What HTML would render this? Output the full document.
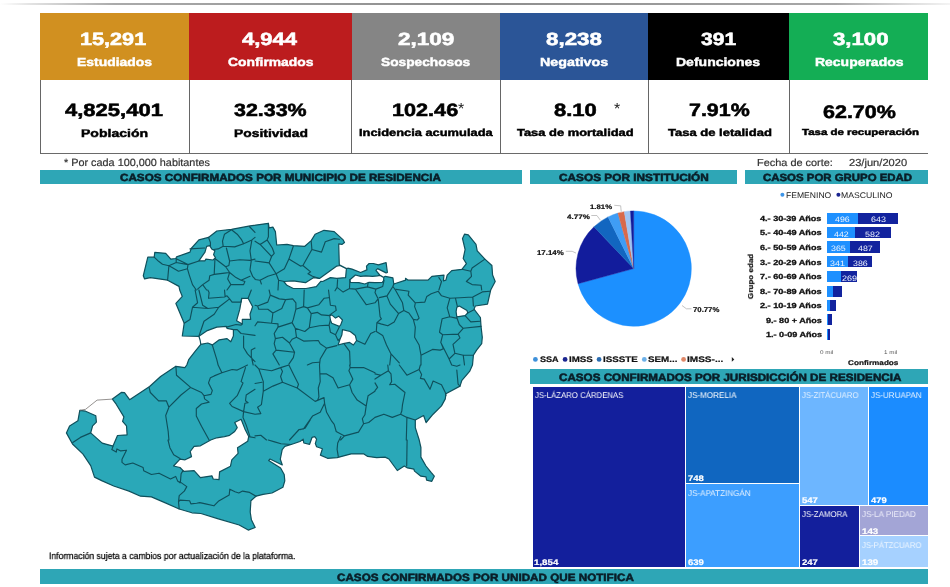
<!DOCTYPE html><html><head><meta charset="utf-8"><title>COVID-19 Michoac&aacute;n</title>
<style>html,body{margin:0;padding:0;background:#fff}body{width:950px;height:587px;position:relative;overflow:hidden;font-family:"Liberation Sans",sans-serif}.b{position:absolute}.t{position:absolute;white-space:nowrap;line-height:1;transform-origin:0 0;font-family:"Liberation Sans",sans-serif;text-rendering:geometricPrecision;will-change:transform}svg{position:absolute;left:0;top:0}</style></head><body>
<div class="b" style="left:0;top:3px;width:950px;height:2px;background:linear-gradient(90deg,#fff 0%,#e4e4e4 3%,#aaa 12%,#8c8c8c 50%,#a8a8a8 88%,#ddd 96%,#f4f4f4 100%)"></div>
<div class="b" style="left:40.3px;top:13px;width:148.9px;height:66.6px;background:#d19020"></div>
<div class="b" style="left:189.2px;top:13px;width:162.4px;height:66.6px;background:#bc1c1e"></div>
<div class="b" style="left:351.6px;top:13px;width:148.4px;height:66.6px;background:#858585"></div>
<div class="b" style="left:500.0px;top:13px;width:148.3px;height:66.6px;background:#2b5597"></div>
<div class="b" style="left:648.3px;top:13px;width:140.7px;height:66.6px;background:#000"></div>
<div class="b" style="left:789.0px;top:13px;width:139.0px;height:66.6px;background:#14ae55"></div>
<div class="b" style="left:40.3px;top:153px;width:887.7px;height:1px;background:#6a6a6a"></div>
<div class="b" style="left:39.8px;top:79.6px;width:1.1px;height:74px;background:#666"></div>
<div class="b" style="left:188.5px;top:79.6px;width:1.1px;height:74px;background:#666"></div>
<div class="b" style="left:351.1px;top:79.6px;width:1.1px;height:74px;background:#666"></div>
<div class="b" style="left:499.7px;top:79.6px;width:1.1px;height:74px;background:#666"></div>
<div class="b" style="left:647.8px;top:79.6px;width:1.1px;height:74px;background:#666"></div>
<div class="b" style="left:788.5px;top:79.6px;width:1.1px;height:74px;background:#666"></div>
<div class="b" style="left:40.1px;top:169.6px;width:481.9px;height:14.1px;background:#2ea6b6"></div>
<div class="b" style="left:530.1px;top:169.6px;width:207.4px;height:14.1px;background:#2ea6b6"></div>
<div class="b" style="left:744.9px;top:169.6px;width:183.1px;height:14.1px;background:#2ea6b6"></div>
<div class="b" style="left:530.1px;top:369.3px;width:397.9px;height:14.7px;background:#2ea6b6"></div>
<div class="b" style="left:40.1px;top:569.4px;width:887.9px;height:14.4px;background:#2ea6b6"></div>
<div class="b" style="left:532.6px;top:387.0px;width:152.4px;height:179.6px;background:#131f9c"></div>
<div class="b" style="left:686.0px;top:387.0px;width:112.9px;height:96.2px;background:#1066c0"></div>
<div class="b" style="left:686.0px;top:484.4px;width:112.9px;height:82.2px;background:#3c9eff"></div>
<div class="b" style="left:799.9px;top:387.0px;width:68.0px;height:117.6px;background:#6db6ff"></div>
<div class="b" style="left:869.0px;top:387.0px;width:59.0px;height:117.6px;background:#1b8cff"></div>
<div class="b" style="left:799.9px;top:505.8px;width:59.2px;height:60.8px;background:#131f9c"></div>
<div class="b" style="left:860.2px;top:505.8px;width:67.8px;height:29.6px;background:#a3a5d6"></div>
<div class="b" style="left:860.2px;top:536.4px;width:67.8px;height:30.2px;background:#a6d1ff"></div>
<div class="b" style="left:826.9px;top:212.5px;width:31.3px;height:11.3px;background:#1e90ff"></div>
<div class="b" style="left:858.2px;top:212.5px;width:39.7px;height:11.3px;background:#12239e"></div>
<div class="b" style="left:826.9px;top:226.9px;width:28.1px;height:11.3px;background:#1e90ff"></div>
<div class="b" style="left:855.0px;top:226.9px;width:35.6px;height:11.3px;background:#12239e"></div>
<div class="b" style="left:826.9px;top:241.4px;width:23.2px;height:11.3px;background:#1e90ff"></div>
<div class="b" style="left:850.1px;top:241.4px;width:29.8px;height:11.3px;background:#12239e"></div>
<div class="b" style="left:826.9px;top:256.2px;width:20.9px;height:11.3px;background:#1e90ff"></div>
<div class="b" style="left:847.8px;top:256.2px;width:24.3px;height:11.3px;background:#12239e"></div>
<div class="b" style="left:826.9px;top:271.0px;width:13.9px;height:11.3px;background:#1e90ff"></div>
<div class="b" style="left:840.8px;top:271.0px;width:16.5px;height:11.3px;background:#12239e"></div>
<div class="b" style="left:826.9px;top:285.5px;width:6.4px;height:11.0px;background:#1e90ff"></div>
<div class="b" style="left:833.3px;top:285.5px;width:9.0px;height:11.0px;background:#12239e"></div>
<div class="b" style="left:826.9px;top:300.2px;width:3.1px;height:10.8px;background:#1e90ff"></div>
<div class="b" style="left:830.0px;top:300.2px;width:5.9px;height:10.8px;background:#12239e"></div>
<div class="b" style="left:826.9px;top:314.4px;width:0.9px;height:11.0px;background:#1e90ff"></div>
<div class="b" style="left:827.8px;top:314.4px;width:4.3px;height:11.0px;background:#12239e"></div>
<div class="b" style="left:826.9px;top:329.2px;width:1.1px;height:11.0px;background:#1e90ff"></div>
<div class="b" style="left:828.0px;top:329.2px;width:2.4px;height:11.0px;background:#12239e"></div>
<svg width="950" height="587" viewBox="0 0 950 587"><path d="M143.3 275.7 L147.8 257.2 L154.2 257.2 L154.8 252.3 L165.7 253.3 L170.8 259.1 L175.9 258.5 L176.5 256.9 L190.0 252.1 L191.2 248.5 L198.9 239.9 L208.5 237.4 L216.8 231.0 L231.5 229.3 L250.0 225.9 L268.4 223.3 L269.1 227.8 L272.9 227.1 L275.4 231.6 L276.7 245.0 L287.0 244.4 L293.3 245.7 L304.8 246.3 L311.2 240.6 L315.1 234.2 L324.0 230.3 L334.2 231.6 L343.2 239.9 L344.5 242.5 L341.9 244.4 L338.7 243.8 L339.3 264.8 L346.5 268.6 L347.8 268.2 L352.0 269.1 L360.6 272.5 L366.9 269.9 L366.5 266.1 L369.1 263.5 L373.3 263.5 L378.4 264.8 L386.1 262.7 L387.4 272.5 L386.1 272.9 L377.6 268.6 L375.9 270.3 L379.7 275.0 L382.7 276.7 L384.0 277.1 L385.3 276.3 L392.9 277.8 L393.8 284.0 L405.7 280.1 L405.5 278.3 L408.2 280.2 L428.0 280.2 L431.9 276.3 L444.0 275.1 L443.4 280.8 L445.9 280.2 L447.2 275.1 L451.7 270.6 L461.9 269.3 L466.4 263.6 L463.2 258.5 L465.1 249.5 L462.5 238.6 L464.5 234.2 L468.3 234.8 L476.0 244.4 L477.2 250.8 L484.9 259.1 L491.9 265.5 L492.6 275.1 L495.2 281.5 L490.7 290.0 L487.5 304.1 L475.3 306.0 L474.0 309.2 L480.4 317.5 L481.1 327.1 L482.3 337.3 L481.7 343.7 L476.6 350.1 L473.4 355.2 L472.5 365.0 L469.6 371.4 L461.9 380.3 L460.0 386.1 L445.9 393.8 L445.3 398.9 L441.5 405.9 L433.1 414.2 L426.1 422.5 L423.6 415.5 L415.3 420.0 L415.3 427.6 L419.0 439.2 L420.9 447.5 L420.9 457.1 L426.0 466.0 L431.1 472.4 L434.3 476.2 L431.8 481.3 L426.6 480.1 L426.0 476.9 L420.9 476.2 L414.5 471.1 L413.9 469.2 L407.5 467.9 L404.3 466.0 L397.3 470.5 L388.9 459.0 L385.1 457.1 L376.7 457.7 L367.7 456.4 L363.9 453.9 L351.1 453.9 L337.1 457.7 L327.5 458.3 L320.4 455.1 L322.4 448.8 L316.6 446.8 L315.3 443.6 L316.6 439.2 L314.7 436.6 L312.1 437.3 L309.6 444.3 L303.8 443.0 L303.2 439.2 L300.0 441.5 L291.2 444.5 L284.8 446.4 L282.2 449.6 L280.3 459.2 L282.3 465.0 L270.0 459.0 L268.6 460.6 L280.6 468.0 L284.2 474.5 L284.8 480.9 L282.9 487.3 L272.0 493.0 L263.1 494.3 L256.0 496.2 L250.9 500.7 L250.2 512.0 L251.4 519.8 L255.2 527.5 L248.2 530.1 L239.2 525.0 L217.5 518.6 L200.9 513.5 L191.9 512.8 L179.2 509.0 L164.8 502.6 L151.4 496.9 L140.5 496.2 L129.0 491.1 L113.7 486.0 L102.2 480.9 L94.5 477.1 L90.7 465.6 L83.0 454.1 L72.5 444.0 L66.4 432.9 L69.6 425.9 L77.9 420.8 L79.8 410.3 L85.6 411.2 L95.8 415.7 L96.4 422.1 L92.6 425.9 L90.7 432.9 L102.2 443.1 L113.0 446.1 L117.5 435.5 L127.1 434.8 L126.5 425.9 L122.6 421.4 L123.9 416.9 L116.2 404.2 L112.4 399.1 L121.3 392.4 L124.5 392.7 L129.6 399.7 L149.6 386.5 L160.6 376.5 L175.9 366.3 L184.8 367.6 L186.8 365.0 L188.7 359.6 L195.1 351.3 L200.8 344.3 L200.2 340.5 L198.9 336.3 L182.3 336.0 L184.2 323.2 L175.9 303.4 L182.3 296.4 L179.7 290.0 L179.0 286.4 L167.6 280.2 L150.3 277.6 L144.6 278.9Z M198.9 260.8 L205.0 252.1 L206.6 246.3 L209.8 245.7 L211.7 248.9 L214.9 250.8 L213.6 254.6 L215.5 257.8 L213.0 260.0 L205.9 259.1 L205.0 260.8Z M283.8 281.5 L293.3 280.8 L305.5 282.7 L313.8 277.6 L319.5 278.5 L336.8 266.1 L340.0 265.5 L346.4 268.7 L345.6 277.6 L336.8 278.3 L330.4 277.6 L322.7 281.5 L320.8 281.3 L316.3 286.6 L306.1 288.5 L293.3 288.5 L286.9 285.3Z M349.9 279.7 L355.4 275.0 L360.6 276.3 L365.7 275.9 L372.5 276.3 L377.6 275.9 L379.7 275.3 L382.7 276.9 L383.8 277.3 L383.6 280.6 L382.3 282.3 L375.0 282.7 L369.1 282.3 L364.8 284.0 L358.9 282.7 L350.3 282.3Z M241.7 298.3 L248.1 298.3 L252.6 306.6 L250.0 314.3 L250.7 319.4 L242.3 319.4 L242.3 323.9 L236.6 320.7 L239.8 309.2Z M456.8 307.3 L459.3 306.0 L467.0 310.4 L467.7 313.0 L465.1 315.6 L456.8 316.8 L456.1 311.7Z M329.8 315.6 L331.7 314.9 L335.5 318.1 L338.7 316.2 L342.5 320.0 L340.6 325.1 L339.3 326.4 L331.7 323.2 L330.4 320.0Z M342.5 329.6 L350.2 331.5 L355.3 335.4 L356.6 340.5 L353.4 345.0 L349.6 342.4 L343.2 343.7 L338.1 345.0 L340.0 339.2 L341.9 334.7Z M180.0 459.2 L185.1 459.8 L191.5 456.6 L190.2 451.5 L194.1 446.4 L200.4 445.8 L210.7 440.0 L216.8 437.8 L224.5 436.6 L229.6 435.3 L234.7 431.5 L237.2 427.6 L234.7 422.5 L241.1 419.3 L244.9 428.9 L248.7 436.6 L247.7 441.3 L237.5 447.7 L238.1 453.4 L231.8 459.8 L230.5 466.2 L219.6 471.9 L219.0 479.6 L213.2 479.0 L211.9 475.8 L200.4 477.7 L194.1 470.7 L183.8 471.3 L180.0 467.5 L173.5 466.0Z M198.9 336.3 L206.6 330.9 L216.8 327.1 L226.4 326.4 L227.0 328.3 L233.4 329.6 L233.4 336.0 L230.8 341.8 L227.0 338.6 L219.3 339.8 L212.3 344.9 L207.8 343.0 L200.8 344.3 L200.2 340.5Z" fill="#2aa8b8" fill-rule="evenodd" stroke="#0f505c" stroke-width="1.2" stroke-linejoin="round"/><path d="M79.8 410.3 L85.6 409.3 L97.1 400.1 L112.4 399.1" fill="none" stroke="#7a7674" stroke-width="0.8"/><path d="M154.2 257.2 L158.6 261.3 L162.5 264.2 L168.9 265.7 L176.2 262.5 L176.2 258.7 M168.9 265.7 L167.6 280.2 M168.9 265.7 L172.1 267.4 L178.5 271.2 L187.4 268.7 L188.0 264.6 L176.2 262.5 M187.4 268.7 L189.3 275.1 L192.5 284.6 L196.3 290.0 M176.2 258.7 L188.0 264.6 L198.9 261.0 M190.0 248.9 L204.6 248.0 M208.5 237.4 L210.4 242.5 L210.4 246.1 M213.6 249.5 L218.1 248.9 L223.2 246.3 L222.5 241.2 L224.5 234.2 L231.5 229.7 M223.2 246.3 L234.7 246.9 L243.6 243.8 L251.9 239.9 L255.0 237.4 M231.5 229.7 L237.2 234.2 L241.7 239.9 L243.6 243.8 M249.4 226.5 L255.0 232.3 M226.4 248.0 L229.6 261.0 L228.9 265.5 L225.7 266.8 L214.9 258.5 M229.6 261.0 L239.8 259.7 L250.0 260.4 L255.0 259.1 M251.9 239.9 L250.0 250.8 L251.3 260.4 L250.0 270.0 L252.6 276.3 L255.0 278.9 M214.9 259.7 L214.2 274.4 L209.8 275.7 L209.1 280.2 L202.7 284.6 L197.6 289.1 M214.2 274.4 L224.5 273.1 L229.6 272.5 L225.7 266.8 M229.6 272.5 L227.7 278.9 L230.8 284.6 L227.0 290.0 M229.6 272.5 L236.0 277.6 L241.1 280.2 L250.0 276.3 M241.1 280.2 L244.9 281.5 L243.6 284.6 L230.8 284.6 M202.7 284.6 L206.6 290.0 M268.4 223.3 L268.4 236.7 L267.1 239.9 L260.1 244.4 L255.0 241.2 M267.1 239.9 L272.3 248.0 L274.2 253.3 L271.6 256.5 L260.1 244.4 M271.6 256.5 L269.1 262.9 L255.0 261.0 M269.1 262.9 L276.1 273.8 L278.6 280.2 L278.0 290.0 M276.1 273.8 L284.4 268.7 L288.9 259.1 L293.3 246.3 M288.9 259.1 L300.4 266.1 L302.9 265.5 L311.9 249.5 L311.2 241.2 M311.9 249.5 L321.5 252.1 L325.3 241.8 L334.2 238.6 L339.3 239.3 M302.9 265.5 L310.6 271.9 L308.0 273.8 L312.5 276.3 L318.9 278.3 M276.1 273.8 L267.8 276.3 L260.1 280.2 L255.0 279.5 M260.1 280.2 L261.4 284.0 M278.6 280.2 L284.4 281.5 M484.9 259.1 L472.1 268.0 L470.8 271.2 L461.9 269.3 M470.8 271.2 L471.5 276.3 L466.4 281.5 L472.1 284.6 L481.1 285.3 L481.7 290.0 M438.9 277.6 L441.5 281.5 L438.9 290.0 M337.6 279.7 L337.1 287.4 L343.1 292.1 L349.5 288.6 L349.9 279.7 M349.5 288.6 L355.4 289.1 L367.4 286.9 L368.2 282.7 M355.4 289.1 L356.0 290.0 M367.4 286.9 L375.9 289.1 L382.7 286.5 L384.0 280.6 M379.3 297.6 L387.0 295.9 L392.9 286.5 L393.8 284.0 M392.9 286.5 L395.4 290.0 M394.6 289.1 L405.7 290.8 L408.9 291.3 M337.1 287.4 L335.0 290.8 M195.1 290.0 L197.6 302.8 L192.5 307.3 L190.0 319.4 L184.2 323.2 M192.5 307.3 L207.8 308.5 L218.7 307.3 L229.6 298.9 L227.0 295.8 L224.5 297.0 L208.5 298.3 L209.1 292.6 L207.8 290.0 M198.9 290.0 L202.7 305.3 L207.8 308.5 M218.7 307.3 L214.2 314.3 L204.0 321.3 L198.9 336.3 M229.6 298.9 L232.1 302.1 L241.1 302.1 L241.7 298.3 M251.3 290.0 L248.1 298.3 M224.5 290.0 L225.1 296.4 M226.4 327.1 L236.0 324.5 L241.1 325.1 L242.3 323.9 M233.4 329.6 L237.2 329.6 L241.1 333.5 L255.0 335.4 M243.6 336.0 L243.6 347.5 L247.5 353.9 L255.0 361.6 M212.3 345.0 L216.8 359.6 L218.1 365.0 M255.0 348.1 L251.3 350.1 L251.3 356.5 L253.2 365.0 M269.1 290.0 L270.3 295.1 L267.8 302.1 L257.6 306.0 L255.0 305.3 M257.6 306.0 L258.8 309.2 L267.8 309.2 L272.9 313.0 L271.6 323.2 L257.6 321.9 L255.0 325.8 M270.3 295.1 L279.3 298.9 L285.7 299.6 L292.7 298.9 L295.9 302.8 L295.9 309.2 L293.3 319.4 L292.1 322.6 L278.0 327.1 M285.7 299.6 L281.8 308.5 L272.9 313.0 M271.6 323.2 L278.0 323.9 L278.0 327.1 L274.2 333.5 L275.4 338.6 L274.2 343.7 L276.1 350.1 L272.9 353.9 L279.3 365.0 M275.4 338.6 L282.5 337.3 L289.5 343.0 L292.1 339.2 L296.5 337.3 L295.3 328.3 L292.1 322.6 M289.5 343.0 L294.6 352.2 L276.1 350.1 M294.6 352.2 L293.3 357.7 L288.9 364.1 M295.9 309.2 L303.6 306.6 L304.2 290.0 M303.6 306.6 L307.4 307.9 L311.2 313.6 L309.3 327.7 L304.8 331.5 L295.3 328.3 M307.4 307.9 L318.9 304.7 L324.0 298.3 L328.5 297.7 M311.2 313.6 L317.6 312.4 L321.5 314.9 L329.8 315.6 M328.5 290.0 L330.4 305.3 L335.5 306.0 L336.2 310.4 L329.8 314.9 M309.3 327.7 L319.5 325.8 L329.1 325.1 L330.4 320.0 M329.1 325.1 L330.4 332.2 L335.5 334.7 L339.3 327.1 M335.5 334.7 L338.1 340.5 L339.3 339.2 M296.5 337.3 L303.6 341.1 L318.3 340.5 L320.2 343.7 L326.6 348.1 L336.8 345.6 M326.6 348.1 L320.2 359.0 L319.5 365.0 M344.5 344.3 L349.6 351.3 L350.2 365.0 M356.6 340.5 L364.9 344.3 L370.7 333.5 L375.0 331.5 M356.0 290.0 L366.2 304.7 L375.0 302.8 L377.9 299.2 M307.4 365.0 L312.5 362.8 L318.9 362.2 M375.9 289.1 L375.0 292.6 L378.2 298.9 L380.1 316.8 L381.4 318.8 L376.9 322.6 L376.3 331.5 L382.7 335.4 L386.5 345.0 L391.0 353.9 L389.7 365.0 M387.1 296.4 L390.3 304.1 L398.6 313.6 L394.2 321.9 L387.8 325.8 L380.8 323.9 L376.9 322.6 M395.4 290.0 L402.5 302.8 L403.8 310.4 L398.6 313.6 M403.8 310.4 L408.9 313.0 L413.3 319.4 L417.2 320.0 L419.1 318.1 L414.6 306.6 L415.3 302.8 L408.2 295.1 L408.9 291.3 M413.3 319.4 L415.3 327.1 L414.6 337.3 L419.1 345.0 L421.0 355.2 L421.0 365.0 M415.3 302.8 L424.8 302.1 L426.8 296.4 L431.2 293.8 L438.3 291.3 M438.3 291.3 L441.5 295.8 L449.8 298.3 L460.0 297.7 L472.8 297.0 L482.3 291.9 L490.0 291.3 M449.8 298.3 L447.2 307.9 L449.8 316.8 L456.2 318.1 M472.8 297.0 L473.4 306.0 M455.5 298.3 L457.4 306.6 M449.8 316.8 L442.1 318.8 L439.5 332.2 L442.7 334.7 L440.8 342.4 L449.1 359.0 L451.7 365.0 M442.7 334.7 L458.1 334.1 L463.2 328.3 L481.1 326.4 M458.1 334.1 L460.0 337.9 L453.0 344.3 L454.9 353.3 L449.1 359.0 M454.9 353.3 L463.2 355.2 L472.8 355.2 M463.2 355.2 L464.5 365.0 M456.8 317.5 L459.3 324.5 L463.2 328.3 M465.1 315.6 L470.8 321.9 L480.4 321.3 M467.7 313.0 L474.0 309.8 M421.0 355.2 L432.5 349.4 L440.2 350.1 L443.4 348.8 L440.8 342.4 M391.0 353.9 L399.3 362.8 M175.9 366.3 L176.5 375.2 L190.6 387.4 L181.0 395.0 L168.9 407.2 L165.7 415.5 L168.2 431.5 L168.9 440.0 M149.1 387.4 L150.3 392.5 L158.6 400.8 L166.3 400.8 L168.9 407.2 M190.6 387.4 L201.5 392.5 L204.0 395.7 L204.6 398.9 L209.1 402.1 L201.5 404.0 L196.3 408.5 L196.3 416.1 L201.5 426.3 L209.1 440.0 M204.0 395.7 L211.0 394.4 L212.3 390.6 L208.5 382.9 L210.4 377.8 L214.2 375.9 L221.9 372.7 L218.1 365.0 M221.9 372.7 L232.1 369.5 L237.2 370.1 L243.6 366.9 L247.5 365.0 M245.5 367.6 L241.1 381.6 L243.0 382.9 L237.2 395.7 L229.6 403.3 L232.1 406.5 L243.6 411.6 L244.9 403.3 L248.1 402.7 L245.5 400.8 L246.2 395.0 L255.0 389.3 M243.6 411.6 L243.0 417.4 L246.2 425.1 L250.0 436.6 M243.6 411.6 L255.0 414.2 M248.7 436.6 L255.0 437.8 M72.8 442.5 L80.4 437.4 L90.7 432.9 M258.8 368.8 L263.3 381.6 L263.3 391.2 L261.4 404.6 L257.6 407.2 L260.8 413.6 L255.0 414.2 M255.0 365.0 L258.8 368.8 L271.6 370.8 L280.6 367.6 L288.9 365.0 M263.3 391.2 L272.9 386.1 L282.5 382.3 L280.6 376.5 L282.5 371.4 L280.6 367.6 M282.5 382.3 L297.2 388.0 L315.1 401.4 L324.0 397.6 L324.6 403.3 L320.2 412.3 L312.5 416.1 L303.6 428.9 L299.1 429.5 L289.5 440.0 M288.9 365.0 L293.3 373.9 L298.5 384.2 L297.2 388.0 M319.5 365.0 L320.2 381.6 L318.3 388.0 L318.9 396.9 L317.6 400.1 M320.2 373.9 L326.6 373.9 L333.0 377.8 L338.1 388.0 L349.6 384.8 L352.8 379.1 L348.9 370.8 L350.2 367.6 L349.6 365.0 M349.6 384.8 L352.1 392.5 L357.2 400.1 L366.2 405.9 L364.9 414.8 L362.3 418.7 L363.6 423.8 L358.5 432.1 L344.5 435.9 L340.6 440.0 M350.2 367.6 L363.6 367.6 L375.0 372.7 M366.2 405.9 L368.1 395.7 L375.0 391.2 M363.6 423.8 L368.7 422.5 L375.0 417.4 M324.6 403.3 L326.6 412.3 L331.7 421.2 L334.2 424.4 L336.2 431.5 L344.5 435.9 M255.0 383.5 L262.0 382.3 M255.0 435.9 L260.8 435.3 L266.5 440.0 M387.8 365.0 L388.4 370.8 L391.0 373.9 L391.6 381.6 L389.7 384.8 L394.8 384.2 L405.0 392.5 L402.5 404.6 L401.8 411.0 L400.6 414.2 L392.3 417.4 L383.9 414.2 L375.0 417.4 M388.4 370.8 L380.8 375.2 L375.0 373.9 M380.8 375.2 L375.0 379.1 M399.3 365.0 L406.9 375.2 L419.1 369.5 L420.4 365.0 M419.1 369.5 L421.6 374.6 L420.4 378.4 L424.2 379.1 L430.0 389.3 L433.1 381.0 L441.5 384.8 L445.3 392.5 L445.9 395.7 M400.6 414.2 L406.9 417.4 L415.3 420.0 M406.9 417.4 L406.3 440.0 M456.8 370.1 L458.1 384.2 L460.0 386.1 M451.7 365.0 L456.8 366.3 L460.0 365.0 M375.0 382.9 L377.6 387.4 L375.0 390.6 M113.0 446.4 L111.8 449.6 L116.2 452.1 L116.9 448.9 L120.7 450.9 L126.5 450.2 L122.0 459.2 L122.0 462.4 L125.2 464.9 L132.8 463.0 L143.1 467.5 L143.7 470.7 L151.4 474.5 L159.0 473.2 L170.5 479.0 L175.7 476.4 L177.6 480.9 L180.0 482.8 M168.0 440.0 L169.9 447.7 L173.7 454.7 L180.0 458.5 M178.5 501.9 L180.0 500.1 L189.6 500.7 L190.9 503.9 L196.6 503.3 L199.8 502.6 L205.6 503.9 L213.9 505.8 L218.3 501.3 L229.2 495.0 L229.8 489.2 L235.0 491.8 L238.8 493.0 L242.6 491.1 L249.6 492.4 L256.0 496.2 M268.2 440.0 L274.6 441.9 L281.0 443.8 L291.2 444.5 M340.9 436.6 L337.7 443.0 L337.1 449.4 L338.3 456.4 M407.1 440.1 L406.7 466.0 M300.0 429.6 L305.1 428.3 L310.2 420.0 M177.9 481.5 L180.4 482.1 L181.1 473.8 L183.0 470.6 M180.4 482.1 L186.8 486.6 L184.3 491.1 L179.2 495.6 L178.5 501.9 L179.2 509.0" fill="none" stroke="#0f505c" stroke-width="1.15" stroke-linejoin="round" stroke-linecap="round"/><path d="M633.7 268.6 L633.70 210.90 A57.7 57.7 0 1 1 578.03 283.76Z" fill="#1c90ff" stroke="#1c90ff" stroke-width="0.4" stroke-linejoin="round"/><path d="M633.7 268.6 L578.03 283.76 A57.7 57.7 0 0 1 593.96 226.76Z" fill="#121c9c" stroke="#121c9c" stroke-width="0.4" stroke-linejoin="round"/><path d="M633.7 268.6 L593.96 226.76 A57.7 57.7 0 0 1 608.09 216.90Z" fill="#1266c0" stroke="#1266c0" stroke-width="0.4" stroke-linejoin="round"/><path d="M633.7 268.6 L608.09 216.90 A57.7 57.7 0 0 1 617.88 213.11Z" fill="#3f9df5" stroke="#3f9df5" stroke-width="0.4" stroke-linejoin="round"/><path d="M633.7 268.6 L617.88 213.11 A57.7 57.7 0 0 1 624.28 211.67Z" fill="#d8694a" stroke="#d8694a" stroke-width="0.4" stroke-linejoin="round"/><path d="M633.7 268.6 L624.28 211.67 A57.7 57.7 0 0 1 630.44 210.99Z" fill="#9fc4f2" stroke="#9fc4f2" stroke-width="0.4" stroke-linejoin="round"/><path d="M633.7 268.6 L630.44 210.99 A57.7 57.7 0 0 1 633.70 210.90Z" fill="#121c9c" stroke="#121c9c" stroke-width="0.4" stroke-linejoin="round"/><path d="M682.0 305.5 L686.4 308.8 L691.5 308.8" fill="none" stroke="#aaa" stroke-width="0.7"/><path d="M565.8 251.3 L572.2 251.3 L576.0 253.1" fill="none" stroke="#aaa" stroke-width="0.7"/><path d="M591.3 215.5 L596.9 215.5 L600.3 220.1" fill="none" stroke="#aaa" stroke-width="0.7"/><path d="M614.3 205.3 L620.7 205.8 L621.2 211.7" fill="none" stroke="#aaa" stroke-width="0.7"/><circle cx="535.4" cy="359.4" r="2.4" fill="#3d90da"/><circle cx="565.1" cy="359.4" r="2.4" fill="#1a2590"/><circle cx="599.1" cy="359.4" r="2.4" fill="#2a6cb0"/><circle cx="644.3" cy="359.4" r="2.4" fill="#6cb0e8"/><circle cx="683.6" cy="359.4" r="2.4" fill="#e08868"/><path d="M731.8 357 L734.3 359.4 L731.8 361.8Z" fill="#222"/><circle cx="782.4" cy="194.8" r="2" fill="#3d95e8"/><circle cx="838.4" cy="194.8" r="2" fill="#1a2590"/></svg>
<div class="t" style="left:80.28px;top:31.41px;font-size:17.67px;color:#fff;font-weight:bold;transform:scaleX(1.2253);-webkit-text-stroke:0.55px #fff;">15,291</div>
<div class="t" style="left:76.79px;top:56.71px;font-size:11.80px;color:#fff;font-weight:bold;transform:scaleX(1.1789);-webkit-text-stroke:0.45px #fff;">Estudiados</div>
<div class="t" style="left:242.35px;top:31.41px;font-size:17.67px;color:#fff;font-weight:bold;transform:scaleX(1.2459);-webkit-text-stroke:0.55px #fff;">4,944</div>
<div class="t" style="left:227.77px;top:56.71px;font-size:11.80px;color:#fff;font-weight:bold;transform:scaleX(1.1748);-webkit-text-stroke:0.45px #fff;">Confirmados</div>
<div class="t" style="left:397.50px;top:31.41px;font-size:17.67px;color:#fff;font-weight:bold;transform:scaleX(1.2766);-webkit-text-stroke:0.55px #fff;">2,109</div>
<div class="t" style="left:381.35px;top:56.71px;font-size:11.80px;color:#fff;font-weight:bold;transform:scaleX(1.1627);-webkit-text-stroke:0.45px #fff;">Sospechosos</div>
<div class="t" style="left:546.10px;top:31.41px;font-size:17.67px;color:#fff;font-weight:bold;transform:scaleX(1.2668);-webkit-text-stroke:0.55px #fff;">8,238</div>
<div class="t" style="left:539.87px;top:56.71px;font-size:11.80px;color:#fff;font-weight:bold;transform:scaleX(1.2095);-webkit-text-stroke:0.45px #fff;">Negativos</div>
<div class="t" style="left:700.95px;top:31.41px;font-size:17.67px;color:#fff;font-weight:bold;transform:scaleX(1.1915);-webkit-text-stroke:0.55px #fff;">391</div>
<div class="t" style="left:676.28px;top:56.71px;font-size:11.80px;color:#fff;font-weight:bold;transform:scaleX(1.1875);-webkit-text-stroke:0.45px #fff;">Defunciones</div>
<div class="t" style="left:832.63px;top:31.41px;font-size:17.67px;color:#fff;font-weight:bold;transform:scaleX(1.2575);-webkit-text-stroke:0.55px #fff;">3,100</div>
<div class="t" style="left:815.29px;top:56.71px;font-size:11.80px;color:#fff;font-weight:bold;transform:scaleX(1.1836);-webkit-text-stroke:0.45px #fff;">Recuperados</div>
<div class="t" style="left:65.35px;top:102.01px;font-size:17.67px;color:#000;font-weight:bold;transform:scaleX(1.2462);-webkit-text-stroke:0.55px #000;">4,825,401</div>
<div class="t" style="left:81.18px;top:128.90px;font-size:11.10px;color:#000;font-weight:bold;transform:scaleX(1.2656);-webkit-text-stroke:0.45px #000;">Población</div>
<div class="t" style="left:234.35px;top:102.01px;font-size:17.67px;color:#000;font-weight:bold;transform:scaleX(1.2131);-webkit-text-stroke:0.55px #000;">32.33%</div>
<div class="t" style="left:233.89px;top:128.90px;font-size:11.10px;color:#000;font-weight:bold;transform:scaleX(1.2498);-webkit-text-stroke:0.45px #000;">Positividad</div>
<div class="t" style="left:392.08px;top:101.70px;font-size:17.81px;color:#000;font-weight:bold;transform:scaleX(1.2160);-webkit-text-stroke:0.55px #000;">102.46</div>
<div class="t" style="left:359.15px;top:129.01px;font-size:10.13px;color:#000;font-weight:bold;transform:scaleX(1.2700);-webkit-text-stroke:0.45px #000;">Incidencia acumulada</div>
<div class="t" style="left:553.52px;top:101.70px;font-size:17.81px;color:#000;font-weight:bold;transform:scaleX(1.2351);-webkit-text-stroke:0.55px #000;">8.10</div>
<div class="t" style="left:517.00px;top:129.01px;font-size:10.13px;color:#000;font-weight:bold;transform:scaleX(1.2746);-webkit-text-stroke:0.45px #000;">Tasa de mortalidad</div>
<div class="t" style="left:688.72px;top:101.70px;font-size:17.81px;color:#000;font-weight:bold;transform:scaleX(1.2025);-webkit-text-stroke:0.55px #000;">7.91%</div>
<div class="t" style="left:667.89px;top:129.01px;font-size:10.13px;color:#000;font-weight:bold;transform:scaleX(1.2848);-webkit-text-stroke:0.45px #000;">Tasa de letalidad</div>
<div class="t" style="left:823.33px;top:102.81px;font-size:18.09px;color:#000;font-weight:bold;transform:scaleX(1.1885);-webkit-text-stroke:0.55px #000;">62.70%</div>
<div class="t" style="left:801.91px;top:128.30px;font-size:8.73px;color:#000;font-weight:bold;transform:scaleX(1.3149);-webkit-text-stroke:0.45px #000;">Tasa de recuperación</div>
<div class="t" style="left:63.69px;top:158.92px;font-size:10.47px;color:#333;font-weight:normal;transform:scaleX(1.0355);-webkit-text-stroke:0.2px #333;">* Por cada 100,000 habitantes</div>
<div class="t" style="left:757.33px;top:158.90px;font-size:10.20px;color:#333;font-weight:normal;transform:scaleX(1.0719);-webkit-text-stroke:0.2px #333;">Fecha de corte:</div>
<div class="t" style="left:849.44px;top:158.90px;font-size:10.20px;color:#333;font-weight:normal;transform:scaleX(1.0913);-webkit-text-stroke:0.2px #333;">23/jun/2020</div>
<div class="t" style="left:120.11px;top:173.91px;font-size:10.41px;color:#0a1e28;font-weight:bold;transform:scaleX(1.1213);-webkit-text-stroke:0.55px #0a1e28;">CASOS CONFIRMADOS POR MUNICIPIO DE RESIDENCIA</div>
<div class="t" style="left:559.20px;top:173.91px;font-size:10.41px;color:#0a1e28;font-weight:bold;transform:scaleX(1.1362);-webkit-text-stroke:0.55px #0a1e28;">CASOS POR INSTITUCIÓN</div>
<div class="t" style="left:763.02px;top:173.91px;font-size:10.41px;color:#0a1e28;font-weight:bold;transform:scaleX(1.0973);-webkit-text-stroke:0.55px #0a1e28;">CASOS POR GRUPO EDAD</div>
<div class="t" style="left:558.81px;top:373.00px;font-size:10.68px;color:#0a1e28;font-weight:bold;transform:scaleX(1.0915);-webkit-text-stroke:0.55px #0a1e28;">CASOS CONFIRMADOS POR JURISDICCIÓN DE RESIDENCIA</div>
<div class="t" style="left:336.81px;top:573.12px;font-size:10.54px;color:#0a1e28;font-weight:bold;transform:scaleX(1.1076);-webkit-text-stroke:0.55px #0a1e28;">CASOS CONFIRMADOS POR UNIDAD QUE NOTIFICA</div>
<div class="t" style="left:786.21px;top:191.51px;font-size:8.24px;color:#222;font-weight:normal;transform:scaleX(1.0415);">FEMENINO</div>
<div class="t" style="left:841.41px;top:191.51px;font-size:8.24px;color:#222;font-weight:normal;transform:scaleX(1.0514);">MASCULINO</div>
<div class="t" style="left:693.29px;top:307.21px;font-size:6.98px;color:#111;font-weight:bold;transform:scaleX(1.1130);-webkit-text-stroke:0.2px #111;">70.77%</div>
<div class="t" style="left:536.53px;top:250.21px;font-size:6.98px;color:#111;font-weight:bold;transform:scaleX(1.1283);-webkit-text-stroke:0.2px #111;">17.14%</div>
<div class="t" style="left:566.52px;top:215.02px;font-size:6.42px;color:#111;font-weight:bold;transform:scaleX(1.2535);-webkit-text-stroke:0.2px #111;">4.77%</div>
<div class="t" style="left:590.23px;top:205.41px;font-size:6.56px;color:#111;font-weight:bold;transform:scaleX(1.1883);-webkit-text-stroke:0.2px #111;">1.81%</div>
<div class="t" style="left:540.02px;top:355.61px;font-size:8.10px;color:#111;font-weight:bold;transform:scaleX(1.1217);-webkit-text-stroke:0.2px #111;">SSA</div>
<div class="t" style="left:569.01px;top:355.61px;font-size:8.10px;color:#111;font-weight:bold;transform:scaleX(1.2041);-webkit-text-stroke:0.2px #111;">IMSS</div>
<div class="t" style="left:603.21px;top:355.61px;font-size:8.10px;color:#111;font-weight:bold;transform:scaleX(1.2096);-webkit-text-stroke:0.2px #111;">ISSSTE</div>
<div class="t" style="left:648.30px;top:355.61px;font-size:8.10px;color:#111;font-weight:bold;transform:scaleX(1.2122);-webkit-text-stroke:0.2px #111;">SEM...</div>
<div class="t" style="left:687.30px;top:355.61px;font-size:8.10px;color:#111;font-weight:bold;transform:scaleX(1.2403);-webkit-text-stroke:0.2px #111;">IMSS-...</div>
<div class="t" style="left:760.36px;top:215.07px;font-size:7.40px;color:#111;font-weight:bold;transform:scaleX(1.2318);-webkit-text-stroke:0.3px #111;">4.- 30-39 Años</div>
<div class="t" style="left:835.27px;top:216.25px;font-size:7.82px;color:#eef4ff;font-weight:normal;transform:scaleX(1.1261);">496</div>
<div class="t" style="left:870.50px;top:216.25px;font-size:7.82px;color:#eef4ff;font-weight:normal;transform:scaleX(1.1474);">643</div>
<div class="t" style="left:760.18px;top:229.46px;font-size:7.40px;color:#111;font-weight:bold;transform:scaleX(1.2354);-webkit-text-stroke:0.3px #111;">5.- 40-49 Años</div>
<div class="t" style="left:833.67px;top:230.66px;font-size:7.82px;color:#eef4ff;font-weight:normal;transform:scaleX(1.1331);">442</div>
<div class="t" style="left:865.34px;top:230.66px;font-size:7.82px;color:#eef4ff;font-weight:normal;transform:scaleX(1.1474);">582</div>
<div class="t" style="left:760.18px;top:243.96px;font-size:7.40px;color:#111;font-weight:bold;transform:scaleX(1.2354);-webkit-text-stroke:0.3px #111;">6.- 50-59 Años</div>
<div class="t" style="left:831.13px;top:245.16px;font-size:7.82px;color:#eef4ff;font-weight:normal;transform:scaleX(1.1331);">365</div>
<div class="t" style="left:857.72px;top:245.16px;font-size:7.82px;color:#eef4ff;font-weight:normal;transform:scaleX(1.1331);">487</div>
<div class="t" style="left:760.27px;top:258.77px;font-size:7.40px;color:#111;font-weight:bold;transform:scaleX(1.2336);-webkit-text-stroke:0.3px #111;">3.- 20-29 Años</div>
<div class="t" style="left:829.98px;top:259.95px;font-size:7.82px;color:#eef4ff;font-weight:normal;transform:scaleX(1.1402);">341</div>
<div class="t" style="left:852.58px;top:259.95px;font-size:7.82px;color:#eef4ff;font-weight:normal;transform:scaleX(1.1331);">386</div>
<div class="t" style="left:760.08px;top:272.57px;font-size:7.40px;color:#111;font-weight:bold;transform:scaleX(1.2373);-webkit-text-stroke:0.3px #111;">7.- 60-69 Años</div>
<div class="t" style="left:841.50px;top:274.75px;font-size:7.82px;color:#eef4ff;font-weight:normal;transform:scaleX(1.1547);">269</div>
<div class="t" style="left:760.18px;top:287.91px;font-size:7.40px;color:#111;font-weight:bold;transform:scaleX(1.2354);-webkit-text-stroke:0.3px #111;">8.- 70-89 Años</div>
<div class="t" style="left:760.18px;top:301.52px;font-size:7.40px;color:#111;font-weight:bold;transform:scaleX(1.2354);-webkit-text-stroke:0.3px #111;">2.- 10-19 Años</div>
<div class="t" style="left:765.88px;top:316.82px;font-size:7.40px;color:#111;font-weight:bold;transform:scaleX(1.2274);-webkit-text-stroke:0.3px #111;">9.- 80 + Años</div>
<div class="t" style="left:765.60px;top:330.61px;font-size:7.40px;color:#111;font-weight:bold;transform:scaleX(1.2279);-webkit-text-stroke:0.3px #111;">1.- 0-09 Años</div>
<div class="t" style="left:820.31px;top:350.60px;font-size:5.31px;color:#555;font-weight:normal;transform:scaleX(1.1945);">0 mil</div>
<div class="t" style="left:883.56px;top:350.60px;font-size:5.31px;color:#555;font-weight:normal;transform:scaleX(1.1805);">1 mil</div>
<div class="t" style="left:848.37px;top:361.00px;font-size:6.84px;color:#111;font-weight:bold;transform:scaleX(1.1971);-webkit-text-stroke:0.2px #111;">Confirmados</div>
<div class="t" style="left:534.82px;top:391.30px;font-size:8.38px;color:#fff;font-weight:normal;transform:scaleX(0.9313);">JS-LÁZARO CÁRDENAS</div>
<div class="t" style="left:534.42px;top:559.02px;font-size:8.10px;color:#fff;font-weight:bold;transform:scaleX(1.2010);-webkit-text-stroke:0.2px #fff;">1,854</div>
<div class="t" style="left:688.22px;top:391.30px;font-size:8.38px;color:#fff;font-weight:normal;transform:scaleX(0.9656);">JS-MORELIA</div>
<div class="t" style="left:688.02px;top:474.61px;font-size:8.10px;color:#fff;font-weight:bold;transform:scaleX(1.1788);-webkit-text-stroke:0.2px #fff;">748</div>
<div class="t" style="left:688.22px;top:488.70px;font-size:8.38px;color:#e6f2ff;font-weight:normal;transform:scaleX(0.9660);">JS-APATZINGÁN</div>
<div class="t" style="left:688.11px;top:559.02px;font-size:8.10px;color:#fff;font-weight:bold;transform:scaleX(1.1788);-webkit-text-stroke:0.2px #fff;">639</div>
<div class="t" style="left:802.12px;top:391.30px;font-size:8.38px;color:#e6f2ff;font-weight:normal;transform:scaleX(0.9256);">JS-ZITÁCUARO</div>
<div class="t" style="left:802.01px;top:497.02px;font-size:8.10px;color:#fff;font-weight:bold;transform:scaleX(1.1788);-webkit-text-stroke:0.2px #fff;">547</div>
<div class="t" style="left:871.22px;top:391.30px;font-size:8.38px;color:#eaf4ff;font-weight:normal;transform:scaleX(0.9572);">JS-URUAPAN</div>
<div class="t" style="left:871.31px;top:497.02px;font-size:8.10px;color:#fff;font-weight:bold;transform:scaleX(1.1642);-webkit-text-stroke:0.2px #fff;">479</div>
<div class="t" style="left:802.12px;top:510.11px;font-size:8.38px;color:#fff;font-weight:normal;transform:scaleX(0.9409);">JS-ZAMORA</div>
<div class="t" style="left:802.01px;top:559.02px;font-size:8.10px;color:#fff;font-weight:bold;transform:scaleX(1.1788);-webkit-text-stroke:0.2px #fff;">247</div>
<div class="t" style="left:862.42px;top:510.11px;font-size:8.38px;color:#eeeefa;font-weight:normal;transform:scaleX(0.9658);">JS-LA PIEDAD</div>
<div class="t" style="left:862.02px;top:527.81px;font-size:8.10px;color:#fff;font-weight:bold;transform:scaleX(1.2013);-webkit-text-stroke:0.2px #fff;">143</div>
<div class="t" style="left:862.42px;top:540.70px;font-size:8.38px;color:#eef6ff;font-weight:normal;transform:scaleX(0.9253);">JS-PÁTZCUARO</div>
<div class="t" style="left:862.02px;top:559.02px;font-size:8.10px;color:#fff;font-weight:bold;transform:scaleX(1.2013);-webkit-text-stroke:0.2px #fff;">139</div>
<div class="t" style="left:49.25px;top:551.31px;font-size:9.43px;color:#000;font-weight:normal;transform:scaleX(0.9173);-webkit-text-stroke:0.25px #000;">Información sujeta a cambios por actualización de la plataforma.</div>
<div class="t" style="left:747.2px;top:298.6px;font-size:7.2px;font-weight:bold;color:#111;transform:rotate(-90deg) scaleX(1.12);-webkit-text-stroke:0.2px #111">Grupo edad</div>
<div class="t" style="left:458.0px;top:102.4px;font-size:16px;color:#222;font-weight:normal">*</div>
<div class="t" style="left:614.2px;top:102.4px;font-size:16px;color:#222;font-weight:normal">*</div>
</body></html>
